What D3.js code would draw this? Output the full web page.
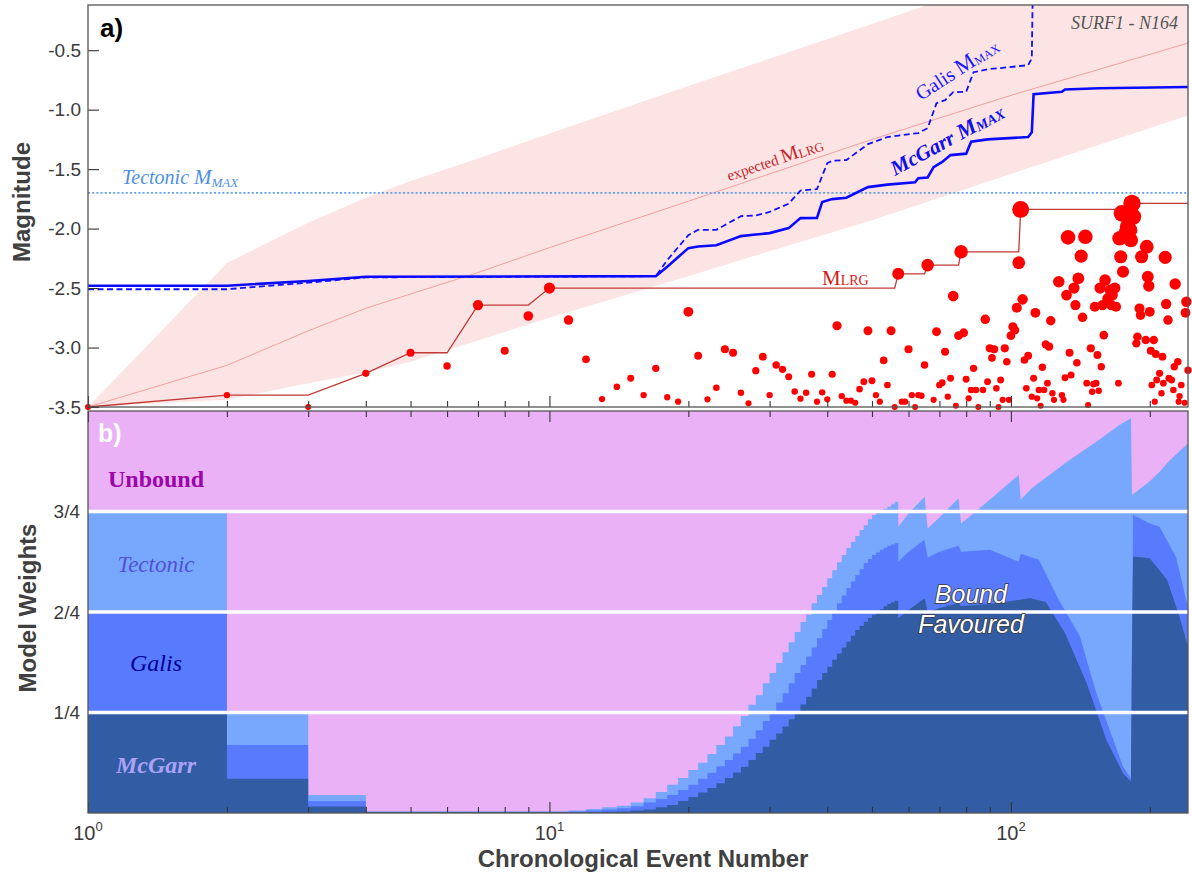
<!DOCTYPE html>
<html>
<head>
<meta charset="utf-8">
<script src="https://cdn.jsdelivr.net/npm/d3@7"></script>
<style>
  body { margin: 0; background: #fff; }
  svg { display: block; }
  text { font-family: "Liberation Sans", Arial, sans-serif; }
  .serif { font-family: "Liberation Serif", "Times New Roman", serif; }
</style>
</head>
<body>
<svg id="chart" width="1192" height="876"></svg>
<script>
// ---------- DATA ----------
// top panel: expected M_LRG band (event number, lower, upper, expected)
const bandN  = [1, 2, 3, 4, 5, 7, 10, 20, 30, 50, 100, 242];
const bandLo = [-3.5, -3.44, -3.30, -3.21, -3.12, -2.94, -2.75, -2.40, -2.19, -1.93, -1.54, -1.05];
const bandHi = [-3.5, -2.29, -1.95, -1.74, -1.60, -1.41, -1.20, -0.80, -0.57, -0.28, 0.12, 0.64];
const expM   = [-3.5, -3.15, -2.86, -2.67, -2.55, -2.37, -2.16, -1.77, -1.54, -1.25, -0.88, -0.44];

const tectonicMmax = -1.70;

// McGarr M_MAX (solid)
const mcgN = [1, 2, 3, 4, 17, 18, 20, 21, 23, 26, 28, 30, 33, 35, 38, 39, 41, 44, 49, 54, 62, 63, 66, 68, 71, 74, 80, 82, 89, 109, 111, 112, 129, 131, 155, 242];
const mcgM = [-2.48, -2.48, -2.44, -2.405, -2.40, -2.32, -2.164, -2.15, -2.14, -2.063, -2.05, -2.038, -1.996, -1.912, -1.91, -1.777, -1.752, -1.74, -1.651, -1.63, -1.61, -1.576, -1.57, -1.483, -1.44, -1.382, -1.37, -1.27, -1.25, -1.23, -1.19, -0.87, -0.85, -0.83, -0.82, -0.81];

// Galis M_MAX (dashed)
const galN = [1, 2, 3, 4, 17, 18, 20, 21, 23, 26, 28, 30, 33, 35, 38, 40, 41, 44, 49, 54, 62, 63, 66, 69, 72, 75, 80, 83, 89, 95, 109, 111, 112];
const galM = [-2.51, -2.51, -2.455, -2.41, -2.40, -2.265, -2.055, -2.01, -2.01, -1.895, -1.89, -1.86, -1.79, -1.68, -1.668, -1.45, -1.43, -1.424, -1.29, -1.23, -1.20, -1.197, -1.155, -0.945, -0.92, -0.853, -0.85, -0.685, -0.66, -0.65, -0.626, -0.567, 0.5];

// M_LRG running maximum
const lrgN = [1, 2, 3, 4, 5, 6, 7, 8, 9, 10, 56, 57, 65, 66, 77, 78, 104, 105, 182, 183, 242];
const lrgM = [-3.5, -3.40, -3.40, -3.217, -3.044, -3.044, -2.643, -2.643, -2.643, -2.50, -2.50, -2.38, -2.38, -2.307, -2.307, -2.195, -2.195, -1.839, -1.839, -1.788, -1.788];

// events (chronological number, magnitude)
const evN = [1, 2, 3, 4, 5, 6, 7, 8, 9, 10, 11, 12, 13, 14, 15, 16, 17, 18, 19, 20,
  21, 22, 23, 24, 25, 26, 27, 28, 29, 30, 31, 32, 33, 34, 35, 36, 37, 38, 39, 40,
  41, 42, 43, 44, 45, 46, 47, 48, 49, 50, 51, 52, 53, 54, 55, 56, 57, 58, 59, 60,
  61, 62, 63, 64, 65, 66, 68, 69, 70, 71, 72, 73, 74, 75, 76, 77, 78, 79, 80, 81,
  82, 83, 84, 85, 87, 88, 89, 90, 91, 92, 93, 94, 95, 96, 97, 98, 99, 100, 101, 102,
  103, 104, 105, 106, 107, 108, 109, 111, 112, 113, 114, 115, 116, 117, 118, 119, 120, 121, 122, 123,
  124, 127, 129, 130, 131, 132, 133, 134, 135, 137, 138, 139, 140, 142, 143, 145, 146, 147, 149, 150,
  151, 152, 153, 154, 155, 156, 157, 158, 159, 160, 162, 164, 165, 166, 168, 169, 171, 172, 173, 174,
  175, 178, 179, 181, 182, 183, 184, 187, 188, 190, 191, 192, 196, 197, 198, 199, 200, 201, 202, 204,
  205, 206, 207, 210, 212, 213, 214, 216, 217, 219, 220, 223, 225, 226, 227, 230, 231, 232, 234, 238,
  239, 240, 242];
const evM = [-3.5, -3.40, -3.5, -3.217, -3.044, -3.155, -2.643, -3.027, -2.735, -2.50, -2.769, -3.099, -3.433, -3.33, -3.259, -3.40, -3.175, -3.418, -3.455, -2.70,
  -3.069, -3.435, -3.338, -3.015, -3.044, -3.38, -3.469, -3.195, -3.077, -3.40, -3.147, -3.183, -3.245, -3.37, -3.43, -3.38, -3.225, -3.455, -3.377, -3.435,
  -3.225, -2.817, -3.408, -3.447, -3.447, -3.464, -3.35, -3.287, -2.859, -3.279, -3.40, -3.455, -3.108, -3.315, -2.859, -3.50, -2.38, -3.455, -3.455, -3.015,
  -3.40, -3.50, -3.40, -3.405, -3.147, -2.307, -3.44, -2.867, -3.315, -3.296, -3.035, -3.413, -3.259, -2.567, -3.49, -2.90, -2.195, -2.876, -3.267, -3.427,
  -3.357, -3.175, -3.357, -3.50, -3.357, -2.763, -3.287, -3.007, -3.086, -3.015, -3.343, -3.50, -3.273, -3.44, -3.007, -3.12, -3.44, -2.90, -2.825, -2.853,
  -2.666, -2.287, -1.839, -2.595, -3.105, -3.343, -3.069, -3.413, -3.259, -2.708, -3.427, -3.357, -3.49, -3.166, -3.357, -2.973, -3.30, -2.993, -2.775, -3.385,
  -3.44, -2.447, -3.40, -3.44, -3.255, -2.559, -2.074, -3.044, -3.231, -2.50, -2.643, -3.128, -2.418, -2.231, -2.746, -2.069, -3.30, -3.483, -3.007, -3.371,
  -3.307, -2.657, -3.30, -3.063, -3.363, -2.50, -3.161, -2.643, -2.895, -2.433, -2.587, -2.517, -2.643, -2.559, -2.50, -2.657, -3.30, -2.082, -2.237, -1.872,
  -2.363, -2.027, -1.985, -2.013, -2.097, -1.788, -1.90, -2.965, -2.909, -2.671, -2.727, -2.237, -2.937, -2.153, -2.405, -2.483, -2.70, -3.027, -3.315, -2.937,
  -3.455, -3.055, -3.273, -3.217, -3.385, -3.077, -3.30, -2.242, -2.634, -2.769, -3.259, -3.273, -3.357, -3.161, -2.466, -3.12, -3.455, -3.408, -3.315, -3.464,
  -2.708, -2.615, -3.19];

// bottom panel: cumulative model weights [event, weight]
// (McGarr, +Galis, +Tectonic; Unbound fills the rest)
const wTec = [[1, .75], [2, .251], [3, .045], [4, .004], [11, .006], [12, .010], [13, .014], [14, .018], [15, .026], [16, .037],
  [17, .052], [18, .070], [19, .087], [20, .107], [21, .125], [22, .147], [23, .169], [24, .190], [25, .216], [26, .241],
  [27, .269], [28, .293], [29, .323], [30, .348], [31, .373], [32, .400], [33, .425], [34, .450], [35, .475], [36, .493],
  [37, .522], [38, .542], [39, .562], [40, .584], [41, .604], [42, .624], [43, .642], [44, .659], [45, .674], [46, .689],
  [47, .704], [48, .716], [49, .731], [50, .741], [51, .749], [52, .752], [53, .757], [54, .762], [55, .768], [56, .774],
  [57, .712], [60, .745], [65, .787], [66, .708], [70, .735], [77, .783], [78, .720], [90, .779], [104, .841], [105, .779],
  [111, .808], [131, .870], [155, .928], [172, .965], [182, .982], [183, .791], [200, .825], [210, .849], [220, .875], [242, .920]];
const wGal = [[1, .50], [2, .169], [3, .030], [4, .003], [11, .004], [12, .006], [13, .009], [14, .012], [15, .017], [16, .026],
  [17, .035], [18, .045], [19, .057], [20, .070], [21, .085], [22, .100], [23, .116], [24, .132], [25, .148], [26, .165],
  [27, .185], [28, .206], [29, .229], [30, .252], [31, .275], [32, .298], [33, .323], [34, .348], [35, .368], [36, .389],
  [37, .412], [38, .435], [39, .458], [40, .480], [41, .501], [42, .522], [43, .541], [44, .560], [45, .576], [46, .592],
  [47, .607], [48, .622], [49, .632], [50, .642], [51, .648], [52, .655], [53, .660], [54, .665], [55, .668], [56, .671],
  [57, .625], [60, .650], [65, .680], [66, .635], [70, .650], [77, .665], [78, .650], [90, .655], [104, .625], [105, .645],
  [115, .630], [127, .530], [141, .440], [153, .300], [167, .180], [175, .115], [182, .085], [183, .414], [184, .741], [200, .720],
  [210, .712], [228, .637], [242, .510]];
const wMcg = [[1, .25], [2, .085], [3, .016], [4, .002], [11, .002], [12, .002], [13, .003], [14, .004], [15, .006], [16, .009],
  [17, .014], [18, .020], [19, .030], [20, .040], [21, .051], [22, .062], [23, .074], [24, .087], [25, .101], [26, .115],
  [27, .132], [28, .149], [29, .165], [30, .182], [31, .198], [32, .215], [33, .233], [34, .252], [35, .270], [36, .289],
  [37, .310], [38, .331], [39, .348], [40, .364], [41, .381], [42, .397], [43, .412], [44, .426], [45, .441], [46, .455],
  [47, .466], [48, .476], [49, .485], [50, .493], [51, .500], [52, .507], [53, .514], [54, .520], [55, .524], [56, .528],
  [57, .485], [60, .505], [65, .534], [66, .500], [70, .510], [77, .522], [78, .515], [90, .520], [104, .530], [110, .535],
  [119, .525], [131, .448], [146, .323], [161, .182], [175, .099], [182, .078], [183, .414], [184, .638], [200, .634], [218, .580],
  [232, .488], [242, .414]];

const weightTicks = [0.25, 0.5, 0.75];
const weightLabels = ["1/4", "2/4", "3/4"];
const magTicks = [-3.5, -3.0, -2.5, -2.0, -1.5, -1.0, -0.5];
const majorX = [1, 10, 100];
const minorX = [2, 3, 4, 5, 6, 7, 8, 9, 20, 30, 40, 50, 60, 70, 80, 90, 200];

// ---------- LAYOUT ----------
const L = 88, R = 1188;
const topT = 5, topB = 407, botT = 411, botB = 813;
const STEP_END = 57;   // per-event steps are drawn up to here

const x = d3.scaleLog().domain([1, 242]).range([L, R]);
const yM = d3.scaleLinear().domain([-3.5, -0.12]).range([topB, topT]);
const yW = d3.scaleLinear().domain([0, 1]).range([botB, botT]);
const rDot = m => 3 * Math.pow(10, 0.27 * (m + 3.5));

const svg = d3.select("#chart");
svg.append("rect").attr("width", 1192).attr("height", 876).attr("fill", "#fff");

const defs = svg.append("defs");
defs.append("clipPath").attr("id", "clip-top").append("rect")
  .attr("x", L).attr("y", topT).attr("width", R - L).attr("height", topB - topT);
defs.append("clipPath").attr("id", "clip-bot").append("rect")
  .attr("x", L).attr("y", botT).attr("width", R - L).attr("height", botB - botT);

// ---------- TOP PANEL ----------
const band = bandN.map((n, i) => ({ n: n, lo: bandLo[i], hi: bandHi[i], e: expM[i] }));
const gTop = svg.append("g").attr("clip-path", "url(#clip-top)");

gTop.append("path").datum(band)
  .attr("d", d3.area().x(d => x(d.n)).y0(d => yM(d.lo)).y1(d => yM(d.hi)))
  .attr("fill", "#fde4e4");

gTop.append("path").datum(band)
  .attr("d", d3.line().x(d => x(d.n)).y(d => yM(d.e)))
  .attr("fill", "none").attr("stroke", "#f2a0a0").attr("stroke-width", 1);

gTop.append("line")
  .attr("x1", L).attr("x2", R).attr("y1", yM(tectonicMmax)).attr("y2", yM(tectonicMmax))
  .attr("stroke", "#5c9ff2").attr("stroke-width", 1.6).attr("stroke-dasharray", "2,2.2");

const lineGen = d3.line().x(d => x(d[0])).y(d => yM(d[1]));
gTop.append("path").datum(galN.map((n, i) => [n, galM[i]]))
  .attr("d", lineGen).attr("fill", "none")
  .attr("stroke", "#1010ff").attr("stroke-width", 1.8).attr("stroke-dasharray", "6,3.5");
gTop.append("path").datum(mcgN.map((n, i) => [n, mcgM[i]]))
  .attr("d", lineGen).attr("fill", "none")
  .attr("stroke", "#0a0aff").attr("stroke-width", 2.6);

svg.append("path").datum(lrgN.map((n, i) => [n, lrgM[i]]))
  .attr("d", lineGen).attr("fill", "none")
  .attr("stroke", "#c23a36").attr("stroke-width", 1.3);

svg.append("g").selectAll("circle")
  .data(evN.map((n, i) => ({ n: n, m: evM[i] })))
  .join("circle")
  .attr("cx", d => x(d.n)).attr("cy", d => yM(d.m)).attr("r", d => rDot(d.m))
  .attr("fill", "#ff0000");

// top labels
svg.append("text").attr("x", 100).attr("y", 37)
  .attr("font-size", 26).attr("font-weight", "bold").attr("fill", "#000").text("a)");

svg.append("text").attr("class", "serif").attr("x", 1178).attr("y", 29)
  .attr("text-anchor", "end").attr("font-size", 18).attr("font-style", "italic")
  .attr("fill", "#555").text("SURF1 - N164");

const tect = svg.append("text").attr("class", "serif").attr("x", 122).attr("y", 184)
  .attr("font-style", "italic").attr("fill", "#4b8fe6");
tect.append("tspan").attr("font-size", 20).text("Tectonic ");
tect.append("tspan").attr("font-size", 21).text("M");
tect.append("tspan").attr("font-size", 13).attr("dy", 3).text("MAX");

const expT = svg.append("text").attr("class", "serif")
  .attr("transform", "translate(729,181) rotate(-18.5)").attr("fill", "#c8262b");
expT.append("tspan").attr("font-size", 15).text("expected ");
expT.append("tspan").attr("font-size", 20).text("M");
expT.append("tspan").attr("font-size", 13).attr("dy", 1).text("LRG");

const galT = svg.append("text").attr("class", "serif")
  .attr("transform", "translate(921,101) rotate(-33)").attr("fill", "#1a1aff");
galT.append("tspan").attr("font-size", 20).text("Galis ");
galT.append("tspan").attr("font-size", 22).text("M");
galT.append("tspan").attr("font-size", 12).attr("dy", 1).text("MAX");

const mcgT = svg.append("text").attr("class", "serif")
  .attr("transform", "translate(895,176) rotate(-28.5)")
  .attr("fill", "#1010e8").attr("font-weight", "bold").attr("font-style", "italic");
mcgT.append("tspan").attr("font-size", 21).text("McGarr ");
mcgT.append("tspan").attr("font-size", 22).text("M");
mcgT.append("tspan").attr("font-size", 14).attr("dy", 1).text("MAX");

const lrgT = svg.append("text").attr("class", "serif").attr("x", 822).attr("y", 285)
  .attr("fill", "#d41a1a");
lrgT.append("tspan").attr("font-size", 21).text("M");
lrgT.append("tspan").attr("font-size", 14).text("LRG");

// ---------- BOTTOM PANEL ----------
const stepPts = series => {
  const pts = [];
  series.forEach((d, i) => {
    pts.push(d);
    if (d[0] < STEP_END && i < series.length - 1) pts.push([series[i + 1][0], d[1]]);
  });
  return pts;
};
const wArea = d3.area().x(d => x(d[0])).y0(yW(0)).y1(d => yW(d[1]));

const gBot = svg.append("g").attr("clip-path", "url(#clip-bot)");
gBot.append("rect").attr("x", L).attr("y", botT).attr("width", R - L).attr("height", botB - botT)
  .attr("fill", "#eab1f7");
gBot.append("path").datum(stepPts(wTec)).attr("d", wArea).attr("fill", "#78a8fe");
gBot.append("path").datum(stepPts(wGal)).attr("d", wArea).attr("fill", "#587bfd");
gBot.append("path").datum(stepPts(wMcg)).attr("d", wArea).attr("fill", "#325da5");

gBot.selectAll("line.wl").data(weightTicks).join("line").attr("class", "wl")
  .attr("x1", L).attr("x2", R).attr("y1", d => yW(d)).attr("y2", d => yW(d))
  .attr("stroke", "#fff").attr("stroke-width", 3.5);

svg.append("text").attr("x", 98).attr("y", 442)
  .attr("font-size", 25).attr("font-weight", "bold").attr("fill", "#fff").text("b)");

const modelLabels = [
  { t: "Unbound", y: 487, c: "#9a06aa", w: "bold", s: "normal", f: 24 },
  { t: "Tectonic", y: 572, c: "#5050d8", w: "normal", s: "italic", f: 23 },
  { t: "Galis", y: 671, c: "#000099", w: "normal", s: "italic", f: 24 },
  { t: "McGarr", y: 773, c: "#aaa2f4", w: "bold", s: "italic", f: 24 }
];
svg.append("g").selectAll("text").data(modelLabels).join("text")
  .attr("class", "serif").attr("x", 156).attr("y", d => d.y).attr("text-anchor", "middle")
  .attr("font-size", d => d.f).attr("font-weight", d => d.w).attr("font-style", d => d.s)
  .attr("fill", d => d.c).text(d => d.t);

svg.append("g").selectAll("text").data([["Bound", 603], ["Favoured", 633]]).join("text")
  .attr("x", 971).attr("y", d => d[1]).attr("text-anchor", "middle")
  .attr("font-size", 25).attr("font-style", "italic")
  .attr("fill", "#fff").attr("stroke", "#3a3a3a").attr("stroke-width", 1.6)
  .attr("paint-order", "stroke").text(d => d[0]);

// ---------- AXES ----------
const tickCol = "#333";
const xTicks = (axisFn, yPos, vals, size) => {
  svg.append("g").attr("transform", `translate(0,${yPos})`)
    .call(axisFn(x).tickValues(vals).tickSize(size).tickFormat(""))
    .call(g => g.select(".domain").remove())
    .call(g => g.selectAll("line").attr("stroke", tickCol).attr("stroke-width", 1.1));
};
xTicks(d3.axisBottom, topB, majorX, -11);
xTicks(d3.axisBottom, topB, minorX, -6);
xTicks(d3.axisTop, botT, majorX, -11);
xTicks(d3.axisTop, botT, minorX, -6);
xTicks(d3.axisBottom, botB, majorX, -11);
xTicks(d3.axisBottom, botB, minorX, -6);

svg.append("g").attr("transform", `translate(${L},0)`)
  .call(d3.axisLeft(yM).tickValues(magTicks).tickSize(-11).tickPadding(7)
    .tickFormat(d => d.toFixed(1)))
  .call(g => g.select(".domain").remove())
  .call(g => g.selectAll("line").attr("stroke", tickCol).attr("stroke-width", 1.1))
  .call(g => g.selectAll("text").attr("font-size", 19).attr("fill", "#3a3a3a")
    .attr("font-family", "'Liberation Sans', Arial, sans-serif"));

svg.append("g").attr("transform", `translate(${L},0)`)
  .call(d3.axisLeft(yW).tickValues(weightTicks).tickSize(0).tickPadding(8)
    .tickFormat((d, i) => weightLabels[i]))
  .call(g => g.select(".domain").remove())
  .call(g => g.selectAll("text").attr("font-size", 19).attr("fill", "#3a3a3a")
    .attr("font-family", "'Liberation Sans', Arial, sans-serif"));

const xLab = svg.append("g").selectAll("text").data(majorX).join("text")
  .attr("x", d => x(d)).attr("y", 840).attr("text-anchor", "middle")
  .attr("font-size", 20).attr("fill", "#3a3a3a");
xLab.append("tspan").text("10");
xLab.append("tspan").attr("font-size", 13).attr("dy", -9).text(d => Math.round(Math.log10(d)));

// frames
[[topT, topB], [botT, botB]].forEach(([t, b]) => {
  svg.append("rect").attr("x", L).attr("y", t).attr("width", R - L).attr("height", b - t)
    .attr("fill", "none").attr("stroke", "#555").attr("stroke-width", 1.3);
});

// axis titles
svg.append("text").attr("transform", "translate(30,202) rotate(-90)")
  .attr("text-anchor", "middle").attr("font-size", 24).attr("font-weight", "bold")
  .attr("fill", "#404040").text("Magnitude");
svg.append("text").attr("transform", "translate(36,608) rotate(-90)")
  .attr("text-anchor", "middle").attr("font-size", 24).attr("font-weight", "bold")
  .attr("fill", "#404040").text("Model Weights");
svg.append("text").attr("x", 643).attr("y", 867)
  .attr("text-anchor", "middle").attr("font-size", 24).attr("font-weight", "bold")
  .attr("fill", "#404040").text("Chronological Event Number");
</script>
</body>
</html>
